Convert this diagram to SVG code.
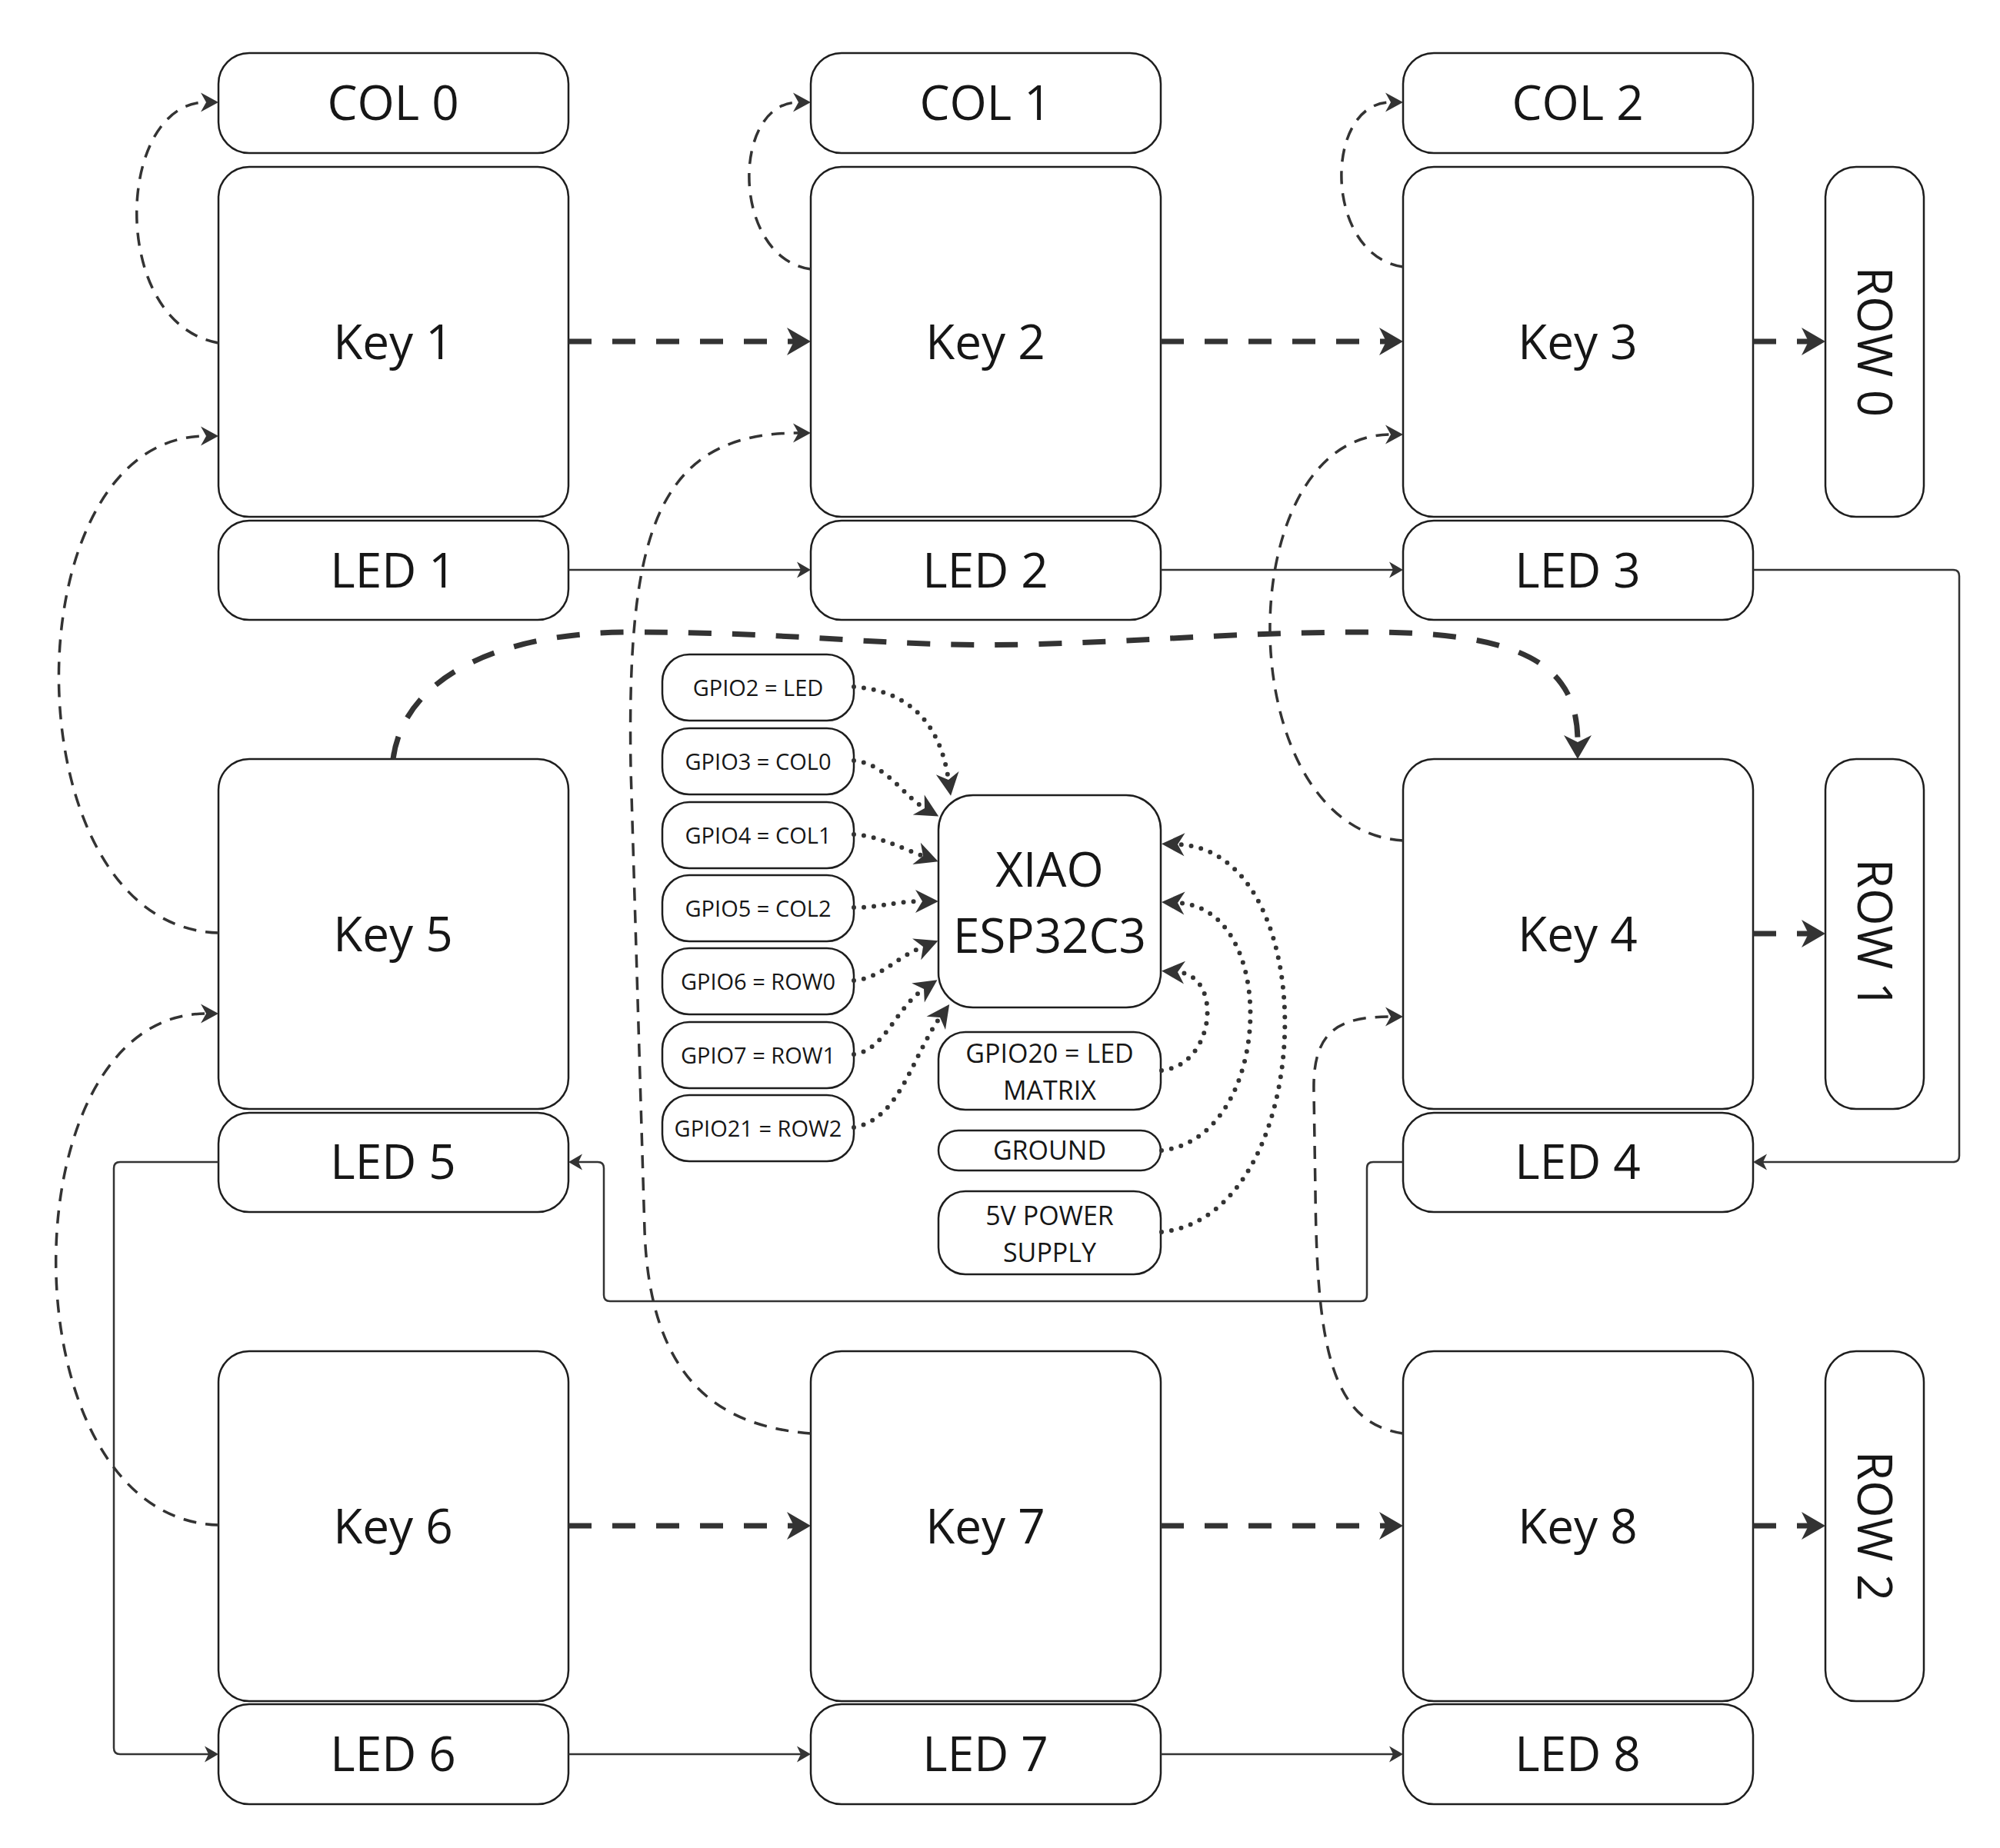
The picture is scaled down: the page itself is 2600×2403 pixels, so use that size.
<svg xmlns="http://www.w3.org/2000/svg" width="2600" height="2403" viewBox="0 0 2600 2403">
<defs>
<style>
.n{fill:#fff;stroke:#1e1e1e;stroke-width:2.5}
.t{font-family:"Open Sans","Noto Sans","Liberation Sans",sans-serif;fill:#161616;text-anchor:middle}
.big{font-size:62px}
.sm{font-size:29px}
.md{font-size:34px}
.c{fill:none;stroke:#333}
.solid{stroke-width:2.5}
.thick{stroke-width:7;stroke-dasharray:30 27}
.thin{stroke-width:3.5;stroke-dasharray:17 12}
.dot{stroke-width:6;stroke-dasharray:0 13;stroke-linecap:round}
</style>
<marker id="aS" markerUnits="userSpaceOnUse" markerWidth="40" markerHeight="40" refX="5" refY="0" orient="auto" overflow="visible"><path d="M0,-10.5 L18,0 L0,10.5 L5,0 Z" fill="#333"/></marker>
<marker id="aT" markerUnits="userSpaceOnUse" markerWidth="40" markerHeight="40" refX="7" refY="0" orient="auto" overflow="visible"><path d="M0,-12.5 L23,0 L0,12.5 L7,0 Z" fill="#333"/></marker>
<marker id="aK" markerUnits="userSpaceOnUse" markerWidth="50" markerHeight="50" refX="9" refY="0" orient="auto" overflow="visible"><path d="M0,-18 L31,0 L0,18 L9,0 Z" fill="#333"/></marker>
<marker id="aD" markerUnits="userSpaceOnUse" markerWidth="50" markerHeight="50" refX="9" refY="0" orient="auto" overflow="visible"><path d="M0,-15 L30,0 L0,15 L9,0 Z" fill="#333"/></marker>
</defs>
<rect width="2600" height="2403" fill="#fff"/>

<g id="col0"><rect class="n" x="284" y="69" width="455" height="130" rx="40"/><text class="t big" x="511" y="156">COL 0</text></g>
<g id="col1"><rect class="n" x="1054" y="69" width="455" height="130" rx="40"/><text class="t big" x="1281" y="156">COL 1</text></g>
<g id="col2"><rect class="n" x="1824" y="69" width="455" height="130" rx="40"/><text class="t big" x="2051" y="156">COL 2</text></g>

<g id="key1"><rect class="n" x="284" y="217" width="455" height="455" rx="40"/><text class="t big" x="511" y="467">Key 1</text></g>
<g id="key2"><rect class="n" x="1054" y="217" width="455" height="455" rx="40"/><text class="t big" x="1281" y="467">Key 2</text></g>
<g id="key3"><rect class="n" x="1824" y="217" width="455" height="455" rx="40"/><text class="t big" x="2051" y="467">Key 3</text></g>
<g id="row0"><rect class="n" x="2373" y="217" width="128" height="455" rx="40"/><text class="t big" transform="translate(2437,444.5) rotate(90)" y="22">ROW 0</text></g>

<g id="led1"><rect class="n" x="284" y="677" width="455" height="129" rx="40"/><text class="t big" x="511" y="764">LED 1</text></g>
<g id="led2"><rect class="n" x="1054" y="677" width="455" height="129" rx="40"/><text class="t big" x="1281" y="764">LED 2</text></g>
<g id="led3"><rect class="n" x="1824" y="677" width="455" height="129" rx="40"/><text class="t big" x="2051" y="764">LED 3</text></g>

<g id="key5"><rect class="n" x="284" y="987" width="455" height="455" rx="40"/><text class="t big" x="511" y="1237">Key 5</text></g>
<g id="key4"><rect class="n" x="1824" y="987" width="455" height="455" rx="40"/><text class="t big" x="2051" y="1237">Key 4</text></g>
<g id="row1"><rect class="n" x="2373" y="987" width="128" height="455" rx="40"/><text class="t big" transform="translate(2437,1214.5) rotate(90)" y="22">ROW 1</text></g>
<g id="led5"><rect class="n" x="284" y="1447" width="455" height="129" rx="40"/><text class="t big" x="511" y="1533">LED 5</text></g>
<g id="led4"><rect class="n" x="1824" y="1447" width="455" height="129" rx="40"/><text class="t big" x="2051" y="1533">LED 4</text></g>

<g id="key6"><rect class="n" x="284" y="1757" width="455" height="455" rx="40"/><text class="t big" x="511" y="2007">Key 6</text></g>
<g id="key7"><rect class="n" x="1054" y="1757" width="455" height="455" rx="40"/><text class="t big" x="1281" y="2007">Key 7</text></g>
<g id="key8"><rect class="n" x="1824" y="1757" width="455" height="455" rx="40"/><text class="t big" x="2051" y="2007">Key 8</text></g>
<g id="row2"><rect class="n" x="2373" y="1757" width="128" height="455" rx="40"/><text class="t big" transform="translate(2437,1984.5) rotate(90)" y="22">ROW 2</text></g>
<g id="led6"><rect class="n" x="284" y="2216" width="455" height="130" rx="40"/><text class="t big" x="511" y="2303">LED 6</text></g>
<g id="led7"><rect class="n" x="1054" y="2216" width="455" height="130" rx="40"/><text class="t big" x="1281" y="2303">LED 7</text></g>
<g id="led8"><rect class="n" x="1824" y="2216" width="455" height="130" rx="40"/><text class="t big" x="2051" y="2303">LED 8</text></g>

<g id="gpio2"><rect class="n" x="861" y="851" width="249" height="86" rx="35"/><text class="t sm" x="985.5" y="904.5">GPIO2 = LED</text></g>
<g id="gpio3"><rect class="n" x="861" y="947" width="249" height="86" rx="35"/><text class="t sm" x="985.5" y="1000.5">GPIO3 = COL0</text></g>
<g id="gpio4"><rect class="n" x="861" y="1043" width="249" height="86" rx="35"/><text class="t sm" x="985.5" y="1096.5">GPIO4 = COL1</text></g>
<g id="gpio5"><rect class="n" x="861" y="1138" width="249" height="86" rx="35"/><text class="t sm" x="985.5" y="1191.5">GPIO5 = COL2</text></g>
<g id="gpio6"><rect class="n" x="861" y="1233" width="249" height="86" rx="35"/><text class="t sm" x="985.5" y="1286.5">GPIO6 = ROW0</text></g>
<g id="gpio7"><rect class="n" x="861" y="1329" width="249" height="86" rx="35"/><text class="t sm" x="985.5" y="1382.5">GPIO7 = ROW1</text></g>
<g id="gpio21"><rect class="n" x="861" y="1424" width="249" height="86" rx="35"/><text class="t sm" x="985.5" y="1477.5">GPIO21 = ROW2</text></g>

<g id="xiao"><rect class="n" x="1220" y="1034" width="289" height="276" rx="45"/><text class="t big" x="1364.5" y="1153">XIAO</text><text class="t big" x="1364.5" y="1239">ESP32C3</text></g>
<g id="gpio20"><rect class="n" x="1220" y="1342" width="289" height="101" rx="35"/><text class="t md" x="1364.5" y="1382">GPIO20 = LED</text><text class="t md" x="1364.5" y="1430">MATRIX</text></g>
<g id="ground"><rect class="n" x="1220" y="1470" width="289" height="52" rx="26"/><text class="t md" x="1364.5" y="1508">GROUND</text></g>
<g id="power"><rect class="n" x="1220" y="1549" width="289" height="108" rx="35"/><text class="t md" x="1364.5" y="1593">5V POWER</text><text class="t md" x="1364.5" y="1641">SUPPLY</text></g>

<g id="connectors">
<path class="c solid" marker-end="url(#aS)" d="M739,741 L1041,741"/>
<path class="c solid" marker-end="url(#aS)" d="M1509,741 L1811,741"/>
<path class="c solid" marker-end="url(#aS)" d="M2279,741 L2539,741 Q2547,741 2547,749 L2547,1503 Q2547,1511 2539,1511 L2292,1511"/>
<path class="c solid" marker-end="url(#aS)" d="M1824,1511 L1785,1511 Q1777,1511 1777,1519 L1777,1684 Q1777,1692 1769,1692 L793,1692 Q785,1692 785,1684 L785,1519 Q785,1511 777,1511 L752,1511"/>
<path class="c solid" marker-end="url(#aS)" d="M284,1511 L156,1511 Q148,1511 148,1519 L148,2273 Q148,2281 156,2281 L271,2281"/>
<path class="c solid" marker-end="url(#aS)" d="M739,2281 L1041,2281"/>
<path class="c solid" marker-end="url(#aS)" d="M1509,2281 L1811,2281"/>

<path class="c thick" marker-end="url(#aK)" d="M739,444 L1032,444"/>
<path class="c thick" marker-end="url(#aK)" d="M1509,444 L1802,444"/>
<path class="c thick" marker-end="url(#aK)" d="M2279,444 L2351,444"/>
<path class="c thick" marker-end="url(#aK)" d="M2279,1214 L2351,1214"/>
<path class="c thick" marker-end="url(#aK)" d="M739,1984 L1032,1984"/>
<path class="c thick" marker-end="url(#aK)" d="M1509,1984 L1802,1984"/>
<path class="c thick" marker-end="url(#aK)" d="M2279,1984 L2351,1984"/>
<path class="c thick" marker-end="url(#aK)" d="M511,987 C525,880 650,822 820,822 C1050,822 1150,842 1330,838 C1500,834 1600,822 1780,822 C1990,822 2051,870 2051,965"/>

<path class="c thin" marker-end="url(#aT)" d="M284,446 C140,420 150,133 268,133"/>
<path class="c thin" marker-end="url(#aT)" d="M1054,350 C950,335 950,133 1038,133"/>
<path class="c thin" marker-end="url(#aT)" d="M1824,347 C1720,332 1720,133 1808,133"/>
<path class="c thin" marker-end="url(#aT)" d="M284,1213 C10,1205 10,567 268,567"/>
<path class="c thin" marker-end="url(#aT)" d="M284,1983 C5,1975 5,1318 268,1318"/>
<path class="c thin" marker-end="url(#aT)" d="M1054,1864 C940,1855 845,1800 838,1600 L820,1000 C815,700 850,563 1038,563"/>
<path class="c thin" marker-end="url(#aT)" d="M1824,1093 C1596,1080 1596,565 1808,565"/>
<path class="c thin" marker-end="url(#aT)" d="M1824,1864 C1730,1850 1712,1750 1710,1550 L1708,1420 C1706,1340 1740,1322 1808,1322"/>

<path class="c dot" marker-end="url(#aD)" d="M1110,893 C1180,898 1222,939 1233,1014"/>
<path class="c dot" marker-end="url(#aD)" d="M1110,989 C1150,992 1176,1036 1202,1051"/>
<path class="c dot" marker-end="url(#aD)" d="M1110,1085 C1145,1088 1165,1100 1200,1113"/>
<path class="c dot" marker-end="url(#aD)" d="M1110,1180 C1145,1180 1165,1172 1199,1172"/>
<path class="c dot" marker-end="url(#aD)" d="M1110,1275 C1145,1272 1165,1245 1200,1231"/>
<path class="c dot" marker-end="url(#aD)" d="M1110,1371 C1150,1366 1165,1310 1201,1286"/>
<path class="c dot" marker-end="url(#aD)" d="M1110,1466 C1170,1455 1185,1375 1222,1323"/>
<path class="c dot" marker-end="url(#aD)" d="M1510,1392 C1580,1385 1590,1268 1531,1264"/>
<path class="c dot" marker-end="url(#aD)" d="M1510,1496 C1655,1480 1665,1180 1531,1174"/>
<path class="c dot" marker-end="url(#aD)" d="M1510,1602 C1715,1580 1725,1105 1531,1098"/>
</g>
</svg>
